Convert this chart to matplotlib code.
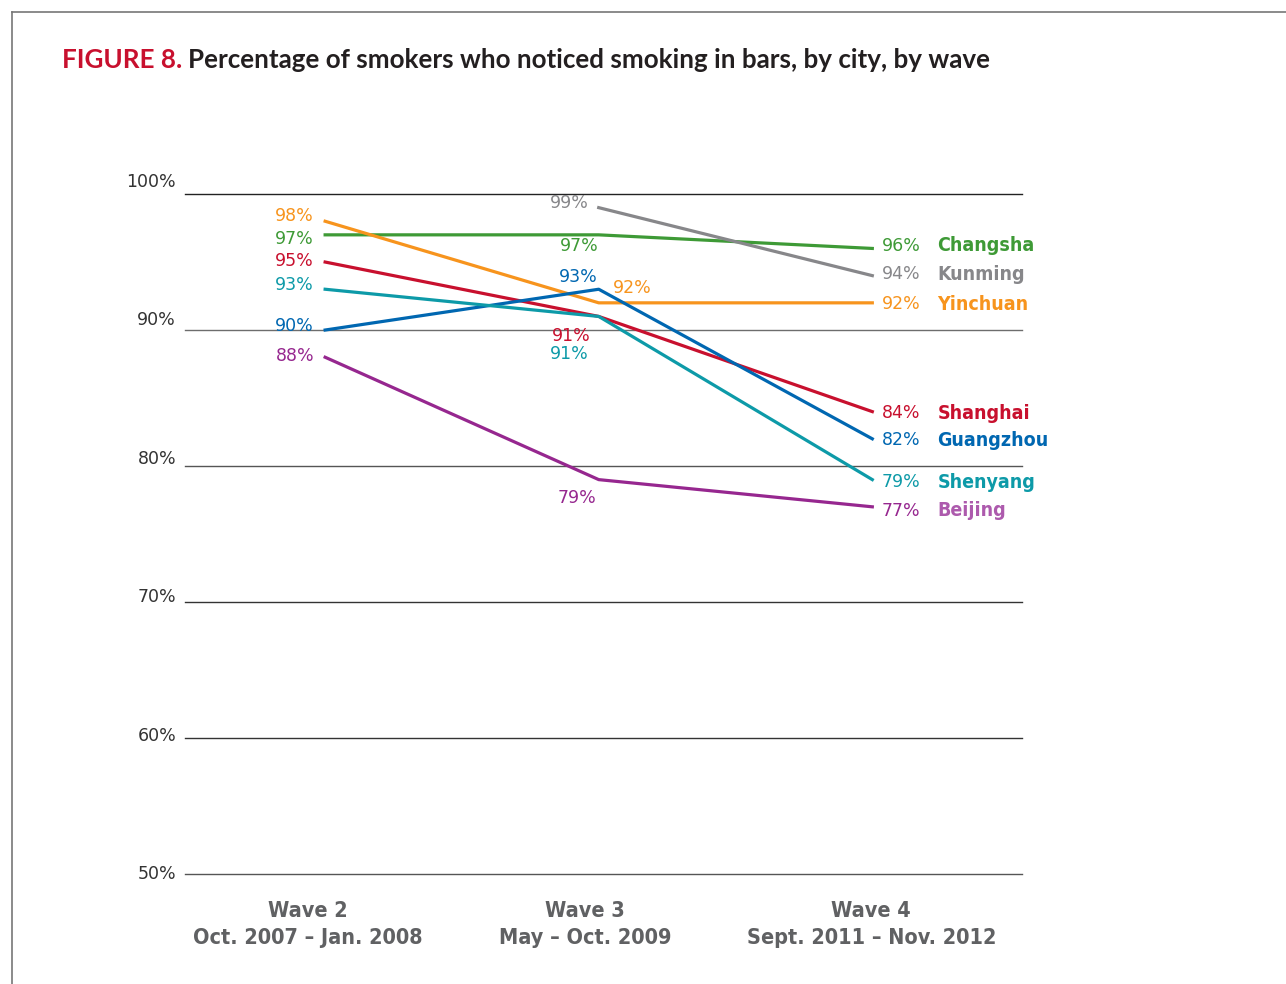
import matplotlib.pyplot as plt
from matplotlib.lines import Line2D

waves = ['Wave 2\nOct. 2007 – Jan. 2008', 'Wave 3\nMay – Oct. 2009', 'Wave 4\nSept. 2011 – Nov. 2012']
cities = ['Changsha', 'Kunming', 'Yinchuan', 'Shanghai', 'Guangzhou', 'Shenyang', 'Beijing']
changsha = [97, 97, 96]
kunming = [None, 99, 94]
yinchuan = [98, 92, 92]
shanghai = [95, 91, 84]
guangzhou = [90, 93, 82]
shenyang = [93, 91, 79]
beijing = [88, 79, 77]
yticks = [50, 60, 70, 80, 90, 100]

series = [changsha, kunming, yinchuan, shanghai, guangzhou, shenyang, beijing]
colors = ['#3e9a36', '#87878a', '#f7941d', '#c8102e', '#0067b1', '#0d9aa8', '#96278f']
name_colors = ['#3e9a36', '#87878a', '#f7941d', '#c8102e', '#0067b1', '#0d9aa8', '#ad5aad']
grid_colors = {100: '#222222', 90: '#6d6d6d', 80: '#555555', 70: '#333333', 60: '#333333', 50: '#555555'}

# label offsets (points) for each wave: (dx, dy, ha)
off_w2 = [(-8, -3, 'right'), None, (-8, 4, 'right'), (-8, 1, 'right'),
          (-8, 3, 'right'), (-8, 3, 'right'), (-8, 1, 'right')]
off_w3 = [(-14, -8, 'center'), (-7, 3, 'right'), (10, 11, 'left'), (-20, -14, 'center'),
          (-15, 9, 'center'), (-21, -27, 'center'), (-16, -13, 'center')]
off_w4 = [(7, 2, 'left'), (7, 1, 'left'), (7, -1, 'left'), (7, -1, 'left'),
          (7, -1, 'left'), (7, -2, 'left'), (7, -3, 'left')]

fig = plt.figure(figsize=(12.86, 9.84), dpi=100)
ax = fig.add_axes([0.1439, 0.1118, 0.651, 0.691])
ax.set_xlim(-0.512, 2.548)
ax.set_ylim(50, 100)
ax.axis('off')

for t in yticks:
    ax.axhline(t, color=grid_colors[t], lw=1.0, zorder=1, clip_on=False)
    ax.text(-0.545, t + (t - 50) * 0.018, f'{t}%', ha='right', va='center',
            fontsize=12.5, color='#333333')

for i, (vals, c) in enumerate(zip(series, colors)):
    xs = [k for k, v in enumerate(vals) if v is not None]
    ys = [v for v in vals if v is not None]
    ax.plot(xs, ys, color=c, lw=2.3, zorder=3)
    for k, offs in zip(range(3), (off_w2, off_w3, off_w4)):
        if vals[k] is None:
            continue
        dx, dy, ha = offs[i]
        ax.annotate(f'{vals[k]}%', xy=(k, vals[k]), xytext=(dx, dy),
                    textcoords='offset points', ha=ha, va='center',
                    fontsize=12.5, color=c)
    ax.annotate(cities[i], xy=(2, vals[2]), xytext=(47, off_w4[i][1]),
                textcoords='offset points', ha='left', va='center',
                fontsize=14, fontweight='bold', fontstretch='condensed',
                color=name_colors[i])

shifts = [-0.062, -0.051, -0.004]
for k, (lab, s) in enumerate(zip(waves, shifts)):
    ax.text(k + s, 46.3, lab, ha='center', va='center', fontsize=15.5,
            fontweight='bold', fontstretch='condensed', color='#606163',
            linespacing=1.4)

# title
t1 = fig.text(62 / 1286, 1 - 60 / 984, 'FIGURE 8.', color='#c8102e', fontsize=18.7,
              fontweight='bold', va='center', ha='left', family=['Lato', 'DejaVu Sans'])
fig.canvas.draw()
bb = t1.get_window_extent()
fig.text((bb.x1 + 6) / 1286, 1 - 60 / 984, 'Percentage of smokers who noticed smoking in bars, by city, by wave',
         color='#231f20', fontsize=18.7, fontweight='bold', va='center', ha='left',
         family=['Lato', 'DejaVu Sans'])

# frame
fig.add_artist(Line2D([12 / 1286, 1], [1 - 12 / 984] * 2, color='#777777', lw=1.2))
fig.add_artist(Line2D([12 / 1286] * 2, [0, 1 - 12 / 984], color='#777777', lw=1.2))

fig.savefig('out.png', dpi=100)
